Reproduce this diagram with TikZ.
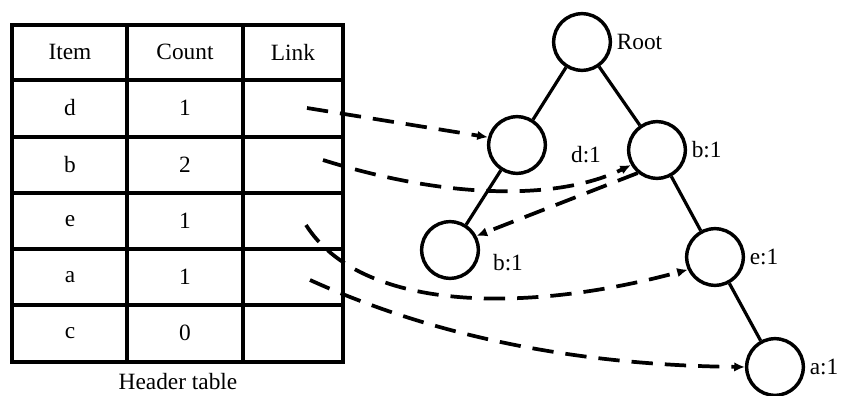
\documentclass[tikz,border=0pt]{standalone}
\usepackage{fontspec}
\setmainfont{Liberation Serif}
\usetikzlibrary{arrows.meta}

\begin{document}
\begin{tikzpicture}[x=0.75pt,y=0.75pt,yscale=-1,xscale=1,
  every node/.style={font=\fontsize{17.5}{20}\selectfont},
  fpnode/.style={circle,draw,line width=2.6pt,minimum size=42.5pt,inner sep=0pt},
  fpedge/.style={line width=2.4pt},
  fplink/.style={line width=2.8pt,dash pattern=on 16pt off 9pt,-{Latex[length=8pt,width=7pt]}}]
\useasboundingbox (0,0) rectangle (844,396);

%Header table
\draw [line width=3.3pt] (12,25) rectangle (343,362) ;
\foreach \y in {80,137,193,249,305}
  \draw [line width=3.3pt] (12,\y) -- (343,\y) ;
\foreach \x in {127,243}
  \draw [line width=3.3pt] (\x,25) -- (\x,362) ;
\node (hItem) at (70,52) {Item};
\node (hCount) at (185,52) {Count};
\node (hLink) at (293,52) {Link};
\foreach \it/\cnt/\y in {d/1/108,b/2/165,e/1/221,a/1/277,c/0/333}{
  \node (item-\it) at (70,\y) {\it};
  \node (count-\it) at (185,\y) {\cnt};
}
\node (caption) at (178,382) {Header table};

%Tree nodes
\node [fpnode,label=east:Root] (root) at (582,42) {};
\node [fpnode] (d1) at (517,145) {};
\node [fpnode,label=east:b:1] (b1r) at (657,150) {};
\node [fpnode] (b1l) at (450,250) {};
\node [fpnode,label=east:e:1] (e1) at (715,257) {};
\node [fpnode,label=east:a:1] (a1) at (775,367) {};
\node (lbl-d1) at (586,155) {d:1};
\node (lbl-b1l) at (508,263) {b:1};

%Straight Lines
\draw [fpedge] (root) -- (d1) ;
\draw [fpedge] (root) -- (b1r) ;
\draw [fpedge] (d1) -- (b1l) ;
\draw [fpedge] (b1r) -- (e1) ;
\draw [fpedge] (e1) -- (a1) ;

%Link starts
\coordinate (link-d) at (307,108) ;
\coordinate (link-b) at (323,160) ;
\coordinate (link-e) at (306,225) ;
\coordinate (link-a) at (310,280) ;

%Curve Lines
\draw [fplink] (link-d) -- (d1.165) ;
\draw [fplink] (link-b) .. controls (450,200) and (560,200) .. (b1r.210) ;
\draw [fplink] (b1r.230) -- (b1l.28) ;
\draw [fplink] (link-e) .. controls (360,310) and (520,315) .. (e1.205) ;
\draw [fplink] (link-a) .. controls (420,330) and (560,365) .. (a1.180) ;

\end{tikzpicture}
\end{document}
